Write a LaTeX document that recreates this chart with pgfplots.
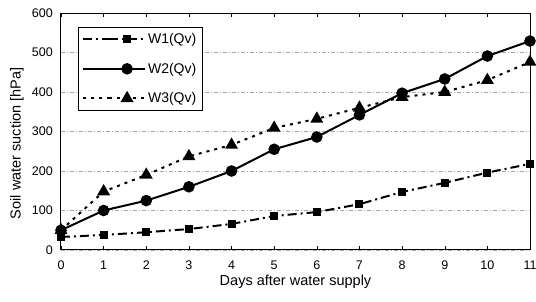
\documentclass[border=0pt]{standalone}
\usepackage{pgfplots}
\pgfplotsset{compat=1.18}
\usepackage{fontspec}
\setmainfont{Liberation Sans}
\begin{document}
\fontsize{12}{14}\selectfont
\begin{tikzpicture}
\begin{axis}[
  scale only axis,
  width=469pt, height=237pt,
  xmin=0, xmax=11, ymin=0, ymax=600,
  xtick={0,...,11}, ytick={0,100,...,600},
  tick align=inside,
  major tick length=4pt,
  ytick style={draw=none},
  xtick style={black, thin},
  axis line style={black, line width=1pt},
  ymajorgrids,
  grid style={gray!70, dash pattern=on 4pt off 2pt on 1pt off 2pt, line width=0.5pt},
  /pgf/number format/assume math mode=true,
  ticklabel style={font=\fontsize{12.5}{14}\selectfont},
  xticklabel style={yshift=-7pt},
  yticklabel style={xshift=-4pt},
  xlabel={Days after water supply},
  ylabel={Soil water suction [hPa]},
  label style={font=\fontsize{14.5}{16}\selectfont},
  xlabel style={at={(rel axis cs:0.5,0)}, yshift=-32pt, anchor=center},
  ylabel style={at={(rel axis cs:0,0.45)}, anchor=center, yshift=44pt},
  legend style={at={(rel axis cs:0.036,0.94)}, anchor=north west, draw=black,
    font=\fontsize{14}{16}\selectfont, inner xsep=4pt, inner ysep=4pt, row sep=13.5pt,
    legend cell align=left},
  legend image code/.code={\path (0pt,0pt) -- (26pt,0pt); \pgfsetlinewidth{2pt}\draw[mark repeat=2,mark phase=2,#1,line width=2pt,very thick,line width=2pt] plot coordinates {(26pt,0pt) (44pt,0pt) (62pt,0pt)};},
]
\addplot[forget plot, black, line width=2pt, dash pattern=on 9pt off 4pt on 2pt off 4pt, mark=square*, mark size=3pt, mark options={solid}]
coordinates {(0,33) (1,38) (2,45) (3,53) (4,66) (5,86) (6,96) (7,116) (8,147) (9,170) (10,196) (11,218)};
\addplot[forget plot, black, line width=2pt, solid, mark=*, mark size=4.75pt]
coordinates {(0,50) (1,100) (2,125) (3,160) (4,200) (5,255) (6,286) (7,342) (8,397) (9,433) (10,491) (11,529)};
\addplot[forget plot, black, line width=2pt, dash pattern=on 3pt off 5pt, mark=triangle*, mark size=5.5pt, mark options={solid}]
coordinates {(0,50) (1,148) (2,190) (3,237) (4,266) (5,309) (6,332) (7,360) (8,387) (9,400) (10,430) (11,476)};
\addlegendimage{black, line width=2pt, dash pattern=on 9pt off 4pt on 2pt off 4pt, mark=square*, mark size=3pt, mark options={solid}}
\addlegendentry{W1(Qv)}
\addlegendimage{black, line width=2pt, solid, mark=*, mark size=4.75pt}
\addlegendentry{W2(Qv)}
\addlegendimage{black, line width=2pt, dash pattern=on 3pt off 5pt, mark=triangle*, mark size=5.5pt, mark options={solid}}
\addlegendentry{W3(Qv)}
\end{axis}
\pgfresetboundingbox
\path (current axis.south west) ++(-61pt,-52pt) rectangle (current axis.north east) ++(6pt,13pt);
\end{tikzpicture}
\end{document}
